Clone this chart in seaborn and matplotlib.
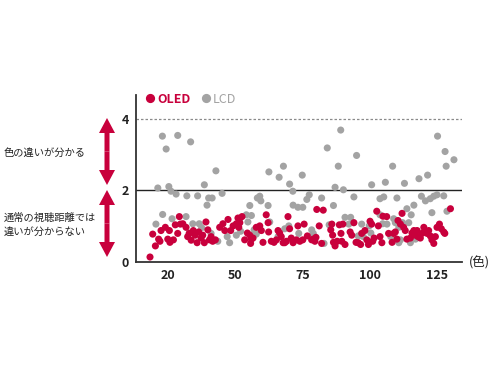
import matplotlib
matplotlib.use('Agg')
import matplotlib.pyplot as plt
from matplotlib.patches import FancyArrow
import seaborn as sns
import pandas as pd

sns.set_style('white')
plt.rcParams['font.family'] = ['Noto Sans CJK JP', 'DejaVu Sans']

## values (x = colour index, y = colour difference)
oled_idx = [18.3, 19.3, 20.3, 21.5, 22.0, 22.4, 24.0, 24.9, 25.5, 25.7, 27.0, 27.7, 28.6, 29.2, 29.6,
            30.5, 31.7, 32.3, 32.9, 33.6, 34.4, 35.1, 35.8, 36.4, 37.3, 37.9, 38.5, 39.1, 39.8, 40.4,
            41.0, 41.6, 42.6, 44.2, 45.4, 46.1, 47.3, 48.3, 49.2, 50.4, 51.0, 51.3, 51.7, 52.5, 53.5,
            54.5, 55.4, 55.7, 56.0, 56.6, 57.8, 59.1, 59.7, 60.3, 61.5, 62.2, 62.4, 63.4, 64.4, 65.3,
            65.9, 66.5, 67.1, 67.8, 68.4, 69.0, 69.6, 70.2, 70.8, 71.5, 72.7, 73.3, 74.0, 75.1, 75.6,
            76.8, 78.4, 79.0, 79.6, 80.0, 80.3, 81.2, 82.1, 82.7, 85.5, 85.9, 86.2, 86.5, 87.1, 87.9,
            88.7, 89.3, 89.6, 90.0, 90.8, 92.7, 93.3, 94.1, 94.9, 95.7, 96.6, 97.0, 98.2, 98.9, 99.5,
            100.1, 100.7, 101.1, 101.6, 102.6, 103.2, 103.8, 104.5, 104.9, 106.3, 107.0, 108.3, 108.9,
            109.5, 110.1, 110.5, 111.4, 112.0, 112.6, 113.2, 113.8, 115.1, 115.7, 116.4, 117.0, 117.6,
            117.9, 118.8, 119.4, 120.1, 120.7, 121.3, 121.9, 122.5, 123.1, 123.8, 124.4, 125.0, 125.9,
            126.6, 127.5, 127.9, 130.0]
oled_val = [0.14, 0.78, 0.45, 0.64, 0.58, 0.88, 0.97, 0.64, 0.88, 0.55, 0.62, 1.04, 0.80, 1.27, 1.06,
            1.07, 0.97, 0.71, 0.80, 0.61, 0.88, 0.75, 0.54, 0.84, 0.67, 0.75, 0.54, 1.12, 0.90, 0.62,
            0.71, 0.58, 0.62, 0.97, 1.07, 0.88, 1.19, 0.88, 1.01, 1.07, 1.23, 0.97, 1.10, 1.27, 0.62,
            0.81, 0.75, 0.52, 0.64, 0.67, 0.97, 1.01, 0.88, 0.55, 1.32, 1.10, 0.84, 0.58, 0.55, 0.62,
            0.88, 0.81, 0.71, 0.54, 0.54, 0.58, 1.27, 0.93, 0.67, 0.54, 0.62, 1.01, 0.58, 0.62, 1.06,
            0.73, 0.62, 0.64, 0.58, 0.69, 1.47, 1.01, 0.52, 1.45, 0.90, 1.06, 0.75, 0.55, 0.45, 0.58,
            1.04, 0.80, 0.58, 1.06, 0.49, 0.84, 0.75, 1.10, 0.55, 0.54, 0.49, 0.80, 0.88, 0.62, 0.49,
            1.14, 1.06, 0.58, 0.67, 1.42, 1.01, 0.71, 0.54, 1.28, 1.27, 0.80, 0.55, 0.80,
            0.84, 0.64, 1.16, 1.06, 1.36, 0.97, 0.88, 0.64, 0.67, 0.81, 0.88, 0.75, 0.88,
            0.71, 0.67, 0.80, 0.97, 0.84, 0.80, 0.88, 0.73, 0.62, 0.52, 0.71, 0.97, 1.06,
            0.93, 0.84, 0.80, 1.49]

lcd_idx = [20.5, 21.2, 22.9, 23.0, 24.3, 25.3, 26.1, 26.5, 28.0, 28.6, 31.7, 32.0, 32.9, 33.4, 34.2,
           36.0, 36.6, 37.5, 38.5, 39.5, 40.1, 41.0, 41.4, 42.8, 43.5, 45.1, 47.0, 47.9, 50.4, 51.7,
           52.0, 54.1, 54.7, 55.4, 56.0, 57.0, 57.8, 58.2, 59.1, 59.5, 62.2, 62.5, 62.8, 65.9, 66.3,
           67.9, 68.4, 69.9, 70.2, 71.4, 71.5, 73.3, 73.6, 74.9, 75.1, 76.6, 77.5, 78.4, 79.0, 82.1,
           83.0, 84.2, 84.9, 86.5, 87.1, 88.3, 89.2, 90.2, 90.8, 92.2, 92.9, 93.9, 94.1, 95.1, 95.7,
           97.0, 97.6, 99.8, 100.4, 100.7, 103.8, 103.8, 104.8, 105.2, 105.8, 106.4, 107.8, 108.5, 108.9,
           109.5, 110.1, 110.8, 110.8, 111.4, 112.2, 112.9, 113.8, 114.5, 115.1, 115.4, 116.4, 117.0,
           118.3, 119.2, 120.7, 121.5, 122.5, 123.1, 123.8, 125.0, 125.2, 127.5, 128.0, 128.4, 128.7,
           131.3]
lcd_val = [1.06, 2.07, 3.52, 1.33, 3.16, 2.11, 1.98, 1.21, 1.90, 3.54, 1.27, 1.85, 0.81, 3.36, 1.07,
           1.85, 1.07, 0.96, 2.16, 1.59, 1.79, 0.80, 1.79, 2.55, 0.58, 1.92, 0.71, 0.54, 0.75, 1.21,
           0.86, 1.32, 1.12, 1.58, 1.30, 0.90, 0.78, 1.79, 1.84, 1.71, 1.58, 2.52, 1.12, 0.71, 2.37,
           2.68, 0.93, 1.01, 2.18, 1.98, 1.59, 1.53, 0.80, 2.43, 1.53, 1.75, 1.88, 0.90, 0.80, 1.79,
           0.52, 3.19, 1.04, 1.58, 2.09, 2.68, 3.69, 2.02, 1.25, 1.06, 1.25, 1.10, 1.82, 2.98, 0.73,
           1.06, 0.71, 1.01, 0.81, 2.16, 1.77, 1.32, 1.07, 1.82, 2.23, 1.06, 0.71, 2.68, 1.21,
           1.10, 1.79, 0.97, 0.54, 0.62, 1.10, 2.20, 1.49, 1.10, 0.54, 1.32, 1.59, 0.64,
           2.33, 1.84, 1.71, 2.43, 1.77, 1.38, 1.84, 1.88, 3.52, 1.85, 3.09, 2.68, 1.42,
           2.86]

series = ['OLED', 'LCD']
colors = {'OLED': '#c8003c', 'LCD': '#a3a3a3'}
x_ticks = [25, 50, 75, 100, 125]
x_ticklabels = ['20', '50', '75', '100', '125']
y_ticks = [0, 2, 4]

# LCD rows first so the red OLED dots sit on top
df = pd.concat([
    pd.DataFrame({'idx': lcd_idx, 'val': lcd_val, 'type': 'LCD'}),
    pd.DataFrame({'idx': oled_idx, 'val': oled_val, 'type': 'OLED'}),
], ignore_index=True)

fig = plt.figure(figsize=(4.9, 3.68), dpi=100)
ax = fig.add_axes([0.2776, 0.288, 0.6653, 0.4538])

sns.scatterplot(data=df, x='idx', y='val', hue='type', hue_order=series, palette=colors,
                s=26, linewidth=0, ax=ax, zorder=3)

ax.axhline(2, color='#222222', lw=1.0, zorder=2)
ax.axhline(4, color='#8a8a8a', lw=0.9, ls=(0, (2, 1.6)), zorder=2)

ax.set_xlim(13.1, 134.3)
ax.set_ylim(0, 4.67)
ax.set_xticks(x_ticks, x_ticklabels)
ax.set_yticks(y_ticks, [str(t) for t in y_ticks])
ax.tick_params(length=0, labelsize=9, colors='#222222', pad=5)
ax.set_xlabel('')
ax.set_ylabel('')
for t in ax.get_xticklabels() + ax.get_yticklabels():
    t.set_fontweight('bold')

sns.despine(ax=ax)
for side in ['left', 'bottom']:
    ax.spines[side].set_color('#333333')
    ax.spines[side].set_linewidth(1.3)

# legend across the top of the plot
handles, labels = ax.get_legend_handles_labels()
leg = ax.legend(handles, labels, loc='center left', bbox_to_anchor=(0.025, 0.976), ncol=2,
                frameon=False, handletextpad=0.05, columnspacing=0.7, markerscale=1.3,
                handlelength=1.0, fontsize=9, borderaxespad=0, borderpad=0)
for txt, name in zip(leg.get_texts(), labels):
    txt.set_color(colors[name])
    if name == 'OLED':
        txt.set_fontweight('bold')

fig.text(469 / 490, 1 - 263 / 368, '(色)', fontsize=9, color='#222222', ha='left', va='center')

## left side notes with double arrows
red = '#c8003c'
for top, bottom in [(118, 185), (190, 257)]:
    y_top = (368 - top) / 100
    y_bot = (368 - bottom) / 100
    mid = (y_top + y_bot) / 2
    for y_end in (y_top, y_bot):
        fig.patches.append(FancyArrow(1.07, mid, 0, y_end - mid, width=0.05, head_width=0.16,
                                      head_length=0.15, length_includes_head=True, color=red,
                                      lw=0, transform=fig.dpi_scale_trans, figure=fig))

fig.text(4 / 490, 1 - 153 / 368, '色の違いが分かる', fontsize=7.4, color='#222222',
         ha='left', va='center')
fig.text(4 / 490, 1 - 225 / 368, '通常の視聴距離では\n違いが分からない', fontsize=7.4,
         color='#222222', ha='left', va='center', linespacing=1.45)

fig.savefig('out.png', dpi=100)
